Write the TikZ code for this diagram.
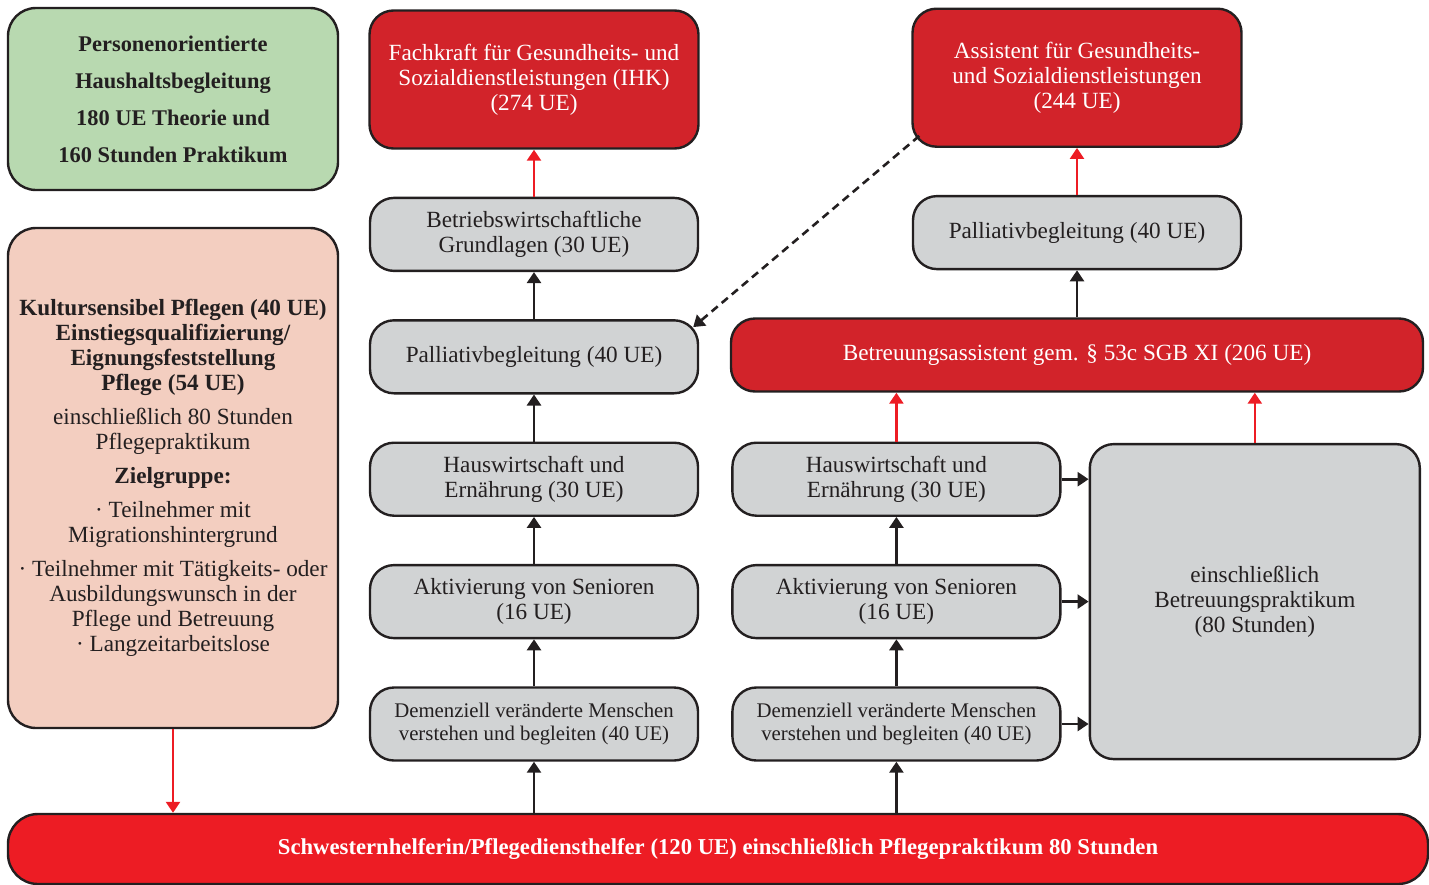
\documentclass[tikz,border=0pt]{standalone}
\usepackage{fontspec}
\setmainfont{Liberation Serif}
\usetikzlibrary{positioning,arrows.meta}

\definecolor{darkred}{HTML}{D2232A}
\definecolor{lightred}{HTML}{ED1C24}
\definecolor{boxgray}{HTML}{D1D3D4}
\definecolor{boxgreen}{HTML}{B8D9B0}
\definecolor{boxpink}{HTML}{F3CEC0}
\definecolor{inkdark}{HTML}{231F20}

\tikzset{
  box/.style={draw=inkdark, line width=1.2pt, rounded corners=12pt,
    align=center, inner sep=2pt, text=inkdark,
    font=\fontsize{11.6}{12.5}\selectfont},
  graybox/.style={box, fill=boxgray, minimum width=164pt, minimum height=36.5pt},
  smallgray/.style={graybox, font=\fontsize{10.4}{11.5}\selectfont},
  redbox/.style={box, fill=darkred, text=white, minimum width=164.5pt, minimum height=69pt},
  up/.style={-{Triangle[width=7pt,length=5.5pt]}, line width=1.3pt, draw=inkdark},
  redup/.style={-{Triangle[width=7pt,length=5.5pt]}, line width=1.2pt, draw=lightred, fill=lightred},
}

\begin{document}
\begin{tikzpicture}[x=0.5pt, y=-0.5pt, node distance=23.5pt]
  \useasboundingbox (0,0) rectangle (1429,884);

  % left column
  \node[box, fill=boxgreen, minimum width=165pt, minimum height=91pt, rounded corners=14pt,
        font=\bfseries\fontsize{11.2}{18.5}\selectfont] (green) at (173,99)
    {Personenorientierte\\Haushaltsbegleitung\\180 UE Theorie und\\160 Stunden Praktikum};
  \node[box, fill=boxpink, minimum width=165pt, minimum height=250pt, rounded corners=14pt] (pink) at (173,478)
    {\textbf{Kultursensibel Pflegen (40 UE)}\\\textbf{Einstiegsqualifizierung/}\\\textbf{Eignungsfeststellung}\\\textbf{Pflege (54 UE)}\\[4.5pt]
     einschließlich 80 Stunden\\Pflegepraktikum\\[4.5pt]
     \textbf{Zielgruppe:}\\[4.5pt]
     · Teilnehmer mit\\Migrationshintergrund\\[4.5pt]
     · Teilnehmer mit Tätigkeits- oder\\Ausbildungswunsch in der\\Pflege und Betreuung\\
     · Langzeitarbeitslose};

  % bottom bar
  \node[box, fill=lightred, text=white, minimum width=710pt, minimum height=35pt, rounded corners=15pt,
        font=\bfseries\fontsize{11.35}{12.5}\selectfont] (bar) at (718,849)
    {Schwesternhelferin/Pflegedienst\-helfer (120 UE) einschließlich Pflegepraktikum 80 Stunden};

  % first chain
  \node[smallgray] (dem1) at (534,724) {Demenziell veränderte Menschen\\verstehen und begleiten (40 UE)};
  \node[graybox, above=of dem1] (akt1) {Aktivierung von Senioren\\(16 UE)};
  \node[graybox, above=of akt1] (hw1) {Hauswirtschaft und\\Ernährung (30 UE)};
  \node[graybox, above=of hw1] (pal1) {Palliativbegleitung (40 UE)};
  \node[graybox, above=of pal1] (bwl) {Betriebswirtschaftliche\\Grundlagen (30 UE)};
  \node[redbox, above=of bwl] (fach) {Fachkraft für Gesundheits- und\\Sozialdienstleistungen (IHK)\\(274 UE)};

  % second chain
  \node[smallgray, right=16pt of dem1] (dem2) {Demenziell veränderte Menschen\\verstehen und begleiten (40 UE)};
  \node[graybox, above=of dem2] (akt2) {Aktivierung von Senioren\\(16 UE)};
  \node[graybox, above=of akt2] (hw2) {Hauswirtschaft und\\Ernährung (30 UE)};
  \node[graybox, minimum width=165pt, minimum height=157.5pt, right=13.5pt of akt2] (prak)
    {einschließlich\\Betreuungspraktikum\\(80 Stunden)};
  \node[redbox, minimum width=346pt, minimum height=36.5pt] (betr) at (1077,355)
    {Betreuungsassistent gem. \S~53c SGB XI (206 UE)};
  \node[graybox, above=of betr] (pal2) {Palliativbegleitung (40 UE)};
  \node[redbox, above=of pal2] (assi) {Assistent für Gesundheits-\\und Sozialdienstleistungen\\(244 UE)};

  % connectors
  \draw[redup] (pink.south) -- (pink.south |- bar.north);
  \draw[up] (bar.north -| dem1) -- (dem1);
  \draw[up] (bar.north -| dem2) -- (dem2);
  \draw[up] (dem1) -- (akt1);
  \draw[up] (akt1) -- (hw1);
  \draw[up] (hw1) -- (pal1);
  \draw[up] (pal1) -- (bwl);
  \draw[redup] (bwl) -- (fach);
  \draw[up] (dem2) -- (akt2);
  \draw[up] (akt2) -- (hw2);
  \draw[redup] (hw2.north) -- (hw2.north |- betr.south);
  \draw[redup] (prak.north) -- (prak.north |- betr.south);
  \draw[up] (betr) -- (pal2);
  \draw[redup] (pal2) -- (assi);
  \foreach \n in {hw2,akt2,dem2}
    \draw[up] (\n.east) -- (\n.east -| prak.west);
  \draw[up, dash pattern=on 4pt off 2.6pt] ([xshift=4pt,yshift=6pt]assi.south west) -- ([xshift=-3pt,yshift=-4pt]pal1.north east);
\end{tikzpicture}
\end{document}
